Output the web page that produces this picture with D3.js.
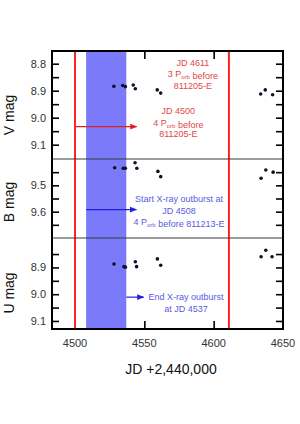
<!DOCTYPE html>
<html>
<head>
<meta charset="utf-8">
<script src="https://cdn.jsdelivr.net/npm/d3@7"></script>
<style>
  body { margin: 0; background: #fff; }
  svg { display: block; font-family: "Liberation Sans", Arial, sans-serif; }
</style>
</head>
<body>
<div id="chart"></div>
<script>
// Light curves around X-ray outburst (V, B, U panels)
const jdV  = [4528, 4534.4, 4536.3, 4542, 4543.5, 4559.3, 4561.8, 4633.9, 4637.2, 4642.5];
const magV = [8.884, 8.881, 8.885, 8.879, 8.893, 8.897, 8.909, 8.912, 8.897, 8.915];

const jdB  = [4528.6, 4534.8, 4536.3, 4543.3, 4544.6, 4559.8, 4561.8, 4634.2, 4637.6, 4642.9];
const magB = [9.433, 9.435, 9.435, 9.414, 9.435, 9.447, 9.467, 9.473, 9.442, 9.450];

const jdU  = [4528.1, 4535.3, 4536.3, 4543.5, 4544.4, 4559.4, 4561.8, 4634.2, 4637.6, 4642.1];
const magU = [8.887, 8.897, 8.899, 8.879, 8.897, 8.868, 8.892, 8.860, 8.836, 8.860];

const xTicks = [4500, 4550, 4600, 4650];
const vTicks = [8.8, 8.85, 8.9, 8.95, 9.0, 9.05, 9.1];
const bTicks = [9.45, 9.5, 9.55, 9.6, 9.65];
const uTicks = [8.85, 8.9, 8.95, 9.0, 9.05, 9.1];
const vLabels = [8.8, 8.9, 9.0, 9.1];
const bLabels = [9.5, 9.6];
const uLabels = [8.9, 9.0, 9.1];

const redLines = [4500, 4611];
const outburst = [4508, 4537];

(function() {
    const W = 300, H = 424;
    const svg = d3.select('#chart').append('svg')
        .attr('width', W).attr('height', H);

    const left = 52, right = 283, top = 51, bottom = 329;
    const x = d3.scaleLinear().domain([4483.4, 4650]).range([left, right]);

    const panels = [
        {name: 'V mag', jd: jdV, mag: magV, ticks: vTicks, labels: vLabels,
         y: d3.scaleLinear().domain([8.753, 9.153]).range([top, 159]), lab: 115},
        {name: 'B mag', jd: jdB, mag: magB, ticks: bTicks, labels: bLabels,
         y: d3.scaleLinear().domain([9.4, 9.7]).range([159, 238]), lab: 202},
        {name: 'U mag', jd: jdU, mag: magU, ticks: uTicks, labels: uLabels,
         y: d3.scaleLinear().domain([8.79, 9.13]).range([238, bottom]), lab: 293}
    ];

    // outburst band
    svg.append('rect')
        .attr('x', x(outburst[0])).attr('y', top)
        .attr('width', x(outburst[1]) - x(outburst[0]))
        .attr('height', bottom - top)
        .attr('fill', '#7a7afa');

    // red reference lines
    svg.selectAll('.red').data(redLines).enter().append('line')
        .attr('x1', d => x(d)).attr('x2', d => x(d))
        .attr('y1', top).attr('y2', bottom)
        .attr('stroke', '#ff2222').attr('stroke-width', 2);

    // panel dividers
    svg.selectAll('.div').data([159, 238]).enter().append('line')
        .attr('x1', left).attr('x2', right)
        .attr('y1', d => d).attr('y2', d => d)
        .attr('stroke', '#3a3a3a').attr('stroke-width', 1.2);

    panels.forEach(p => {
        // inward ticks on both sides
        svg.append('g').attr('transform', `translate(${left},0)`)
            .call(d3.axisRight(p.y).tickValues(p.ticks).tickSize(7).tickFormat(''))
            .call(g => g.select('.domain').remove())
            .selectAll('line').attr('stroke', '#000').attr('stroke-width', 1.6);
        svg.append('g').attr('transform', `translate(${right},0)`)
            .call(d3.axisLeft(p.y).tickValues(p.ticks).tickSize(7).tickFormat(''))
            .call(g => g.select('.domain').remove())
            .selectAll('line').attr('stroke', '#000').attr('stroke-width', 1.6);

        // tick labels
        svg.selectAll(null).data(p.labels).enter().append('text')
            .attr('x', left - 6).attr('y', d => p.y(d))
            .attr('dy', '0.35em').attr('text-anchor', 'end')
            .attr('font-size', 11).attr('fill', '#333')
            .text(d => d3.format('.1f')(d));

        // axis title
        svg.append('text')
            .attr('transform', `translate(14,${p.lab}) rotate(-90)`)
            .attr('text-anchor', 'middle')
            .attr('font-size', 14).attr('fill', '#111')
            .text(p.name);

        // points
        svg.selectAll(null).data(p.jd).enter().append('circle')
            .attr('cx', d => x(d)).attr('cy', (d, i) => p.y(p.mag[i]))
            .attr('r', 1.8).attr('fill', '#10102a');
    });

    // x ticks (top and bottom, inward)
    svg.append('g').attr('transform', `translate(0,${bottom})`)
        .call(d3.axisTop(x).tickValues([4550, 4600]).tickSize(8).tickFormat(''))
        .call(g => g.select('.domain').remove())
        .selectAll('line').attr('stroke', '#000').attr('stroke-width', 1.6);
    svg.append('g').attr('transform', `translate(0,${top})`)
        .call(d3.axisBottom(x).tickValues([4550, 4600]).tickSize(8).tickFormat(''))
        .call(g => g.select('.domain').remove())
        .selectAll('line').attr('stroke', '#000').attr('stroke-width', 1.6);

    svg.selectAll('.xl').data(xTicks).enter().append('text')
        .attr('x', d => x(d)).attr('y', bottom + 14)
        .attr('dy', '0.35em').attr('text-anchor', 'middle')
        .attr('font-size', 11).attr('fill', '#333')
        .text(d => d);

    svg.append('text')
        .attr('x', 171).attr('y', 369).attr('dy', '0.35em')
        .attr('text-anchor', 'middle').attr('font-size', 14).attr('fill', '#111')
        .text('JD +2,440,000');

    // frame
    svg.append('rect')
        .attr('x', left).attr('y', top)
        .attr('width', right - left).attr('height', bottom - top)
        .attr('fill', 'none').attr('stroke', '#000').attr('stroke-width', 2);

    // annotations
    const defs = svg.append('defs');
    [['ahRed', '#e02020'], ['ahBlue', '#2020e0']].forEach(([id, c]) => {
        defs.append('marker').attr('id', id)
            .attr('viewBox', '0 0 10 10').attr('refX', 9).attr('refY', 5)
            .attr('markerWidth', 6).attr('markerHeight', 6).attr('orient', 'auto')
            .append('path').attr('d', 'M0,1 L10,5 L0,9 Z').attr('fill', c);
    });

    function note(lines, cx, cy, color) {
        const t = svg.append('text')
            .attr('text-anchor', 'middle').attr('font-size', 9).attr('fill', color);
        lines.forEach((ln, i) => {
            const row = t.append('tspan').attr('x', cx).attr('y', cy + i * 11.5 + 3);
            ln.forEach(([s, sub]) => {
                if (sub) {
                    row.append('tspan').attr('font-size', 6).attr('dy', 2).text(s);
                    row.append('tspan').attr('dy', -2).text('');
                } else {
                    row.append('tspan').text(s);
                }
            });
        });
    }
    function arrow(x1, x2, yy, id, color) {
        svg.append('line')
            .attr('x1', x1).attr('x2', x2).attr('y1', yy).attr('y2', yy)
            .attr('stroke', color).attr('stroke-width', 1.2)
            .attr('marker-end', `url(#${id})`);
    }

    const V = panels[0].y, B = panels[1].y, U = panels[2].y;
    const red = '#e04848', blue = '#5a5ae0';

    note([[['JD 4611']], [['3 P'], ['orb', 1], [' before']], [['811205-E']]],
        x(4585), V(8.797), red);
    note([[['JD 4500']], [['4 P'], ['orb', 1], [' before']], [['811205-E']]],
        x(4574.5), V(8.977), red);
    arrow(x(4500), x(4544.5), V(9.033), 'ahRed', '#e02020');

    note([[['Start X-ray outburst at']], [['JD 4508']], [['4 P'], ['orb', 1], [' before 811213-E']]],
        x(4575), B(9.553), blue);
    arrow(x(4508), x(4544.3), B(9.592), 'ahBlue', '#2020e0');

    note([[['End X-ray outburst']], [['at JD 4537']]],
        x(4580), U(9.011), blue);
    arrow(x(4537), x(4549.5), U(9.011), 'ahBlue', '#2020e0');
})();
</script>
</body>
</html>
